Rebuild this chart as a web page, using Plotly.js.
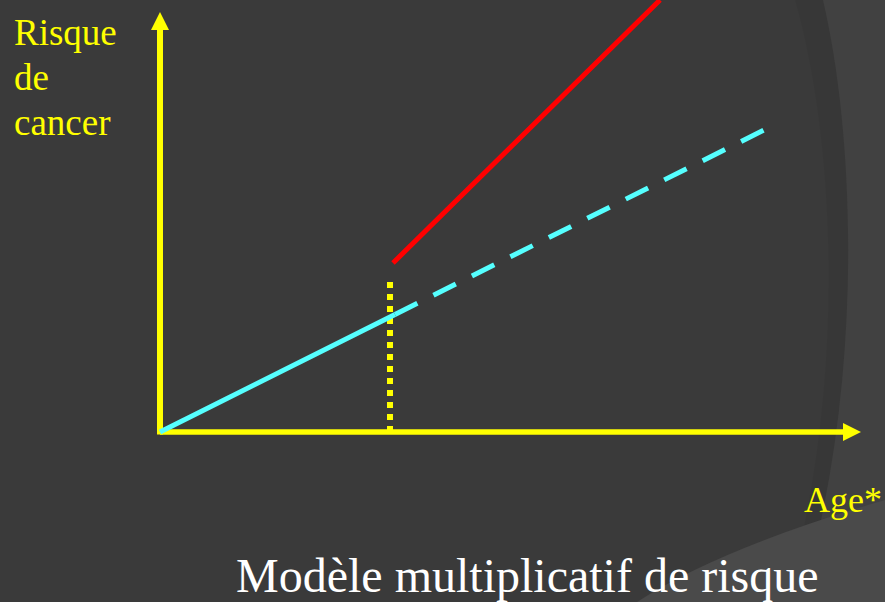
<!DOCTYPE html>
<html>
<head>
<meta charset="utf-8">
<script src="https://cdn.plot.ly/plotly-3.0.1.min.js"></script>
<style>html,body{margin:0;padding:0;background:#3a3a3a;}#chart{width:885px;height:602px;}</style>
</head>
<body>
<div id="chart"></div>
<script>
// Baseline risk (unexposed): solid part up to the exposure age, then dashed extrapolation
const ageBase = [0, 23.5];
const riskBase = [0, 11.75];
const ageBaseExtra = [23.5, 61.6];
const riskBaseExtra = [11.75, 30.8];
// Risk after exposure (multiplicative model)
const ageExposed = [23.3, 50];
const riskExposed = [16.9, 43.2];
// Exposure age marker
const ageExposure = [23, 23];
const riskExposureMark = [0, 15.2];
// Axes (arrows)
const xAxisAge = [0, 68.4];
const xAxisRisk = [0, 0];
const yAxisAge = [0, 0];
const yAxisRisk = [-0.25, 40.4];
const xArrowTip = {age: [70.1], risk: [0]};
const yArrowTip = {age: [0], risk: [42.0]};

const titleText = 'Modèle multiplicatif de risque';
const yLabelLines = ['Risque', 'de', 'cancer'];
const xLabel = 'Age*';

const YEL = '#ffff00', CYAN = '#55ffff', RED = '#ff0000';
const serif = 'Liberation Serif, Times New Roman, serif';

const traces = [
  {x: xAxisAge, y: xAxisRisk, mode: 'lines', line: {color: YEL, width: 5.5}, hoverinfo: 'skip'},
  {x: yAxisAge, y: yAxisRisk, mode: 'lines', line: {color: YEL, width: 6}, hoverinfo: 'skip'},
  {x: xArrowTip.age, y: xArrowTip.risk, mode: 'markers', marker: {symbol: 'arrow-right', size: 18, color: YEL}, hoverinfo: 'skip'},
  {x: yArrowTip.age, y: yArrowTip.risk, mode: 'markers', marker: {symbol: 'arrow-up', size: 18, color: YEL}, hoverinfo: 'skip'},
  {x: ageExposure, y: riskExposureMark, mode: 'lines', line: {color: YEL, width: 6, dash: '6px,6px'}, hoverinfo: 'skip'},
  {x: ageBase, y: riskBase, mode: 'lines', line: {color: CYAN, width: 5}, hoverinfo: 'skip'},
  {x: ageBaseExtra, y: riskBaseExtra, mode: 'lines', line: {color: CYAN, width: 5, dash: '25px,18px'}, hoverinfo: 'skip'},
  {x: ageExposed, y: riskExposed, mode: 'lines', line: {color: RED, width: 5}, hoverinfo: 'skip'}
];

const W = 885, H = 602;
const px = v => v / W, py = v => 1 - v / H;

const annotations = [];
const baselines = [45, 90, 135];
yLabelLines.forEach((t, i) => {
  annotations.push({text: t, xref: 'paper', yref: 'paper', x: px(12), y: py(baselines[i] - 12.5),
    xanchor: 'left', yanchor: 'middle', showarrow: false, font: {family: serif, size: 37, color: YEL}});
});
annotations.push({text: xLabel, xref: 'paper', yref: 'paper', x: px(802), y: py(512 - 12.2),
  xanchor: 'left', yanchor: 'middle', showarrow: false, font: {family: serif, size: 36, color: YEL}});

const layout = {
  width: W, height: H,
  margin: {l: 0, r: 0, t: 0, b: 0, pad: 0},
  paper_bgcolor: '#3a3a3a', plot_bgcolor: 'rgba(0,0,0,0)',
  showlegend: false,
  title: {text: titleText, x: px(236), xanchor: 'left', xref: 'paper', y: py(590 - 14.4), yref: 'container', yanchor: 'middle',
    font: {family: serif, size: 48, color: '#ffffff'}},
  xaxis: {visible: false, range: [-16, 72.5], fixedrange: true},
  yaxis: {visible: false, range: [-17, 43.2], fixedrange: true},
  annotations: annotations,
  shapes: [
    {type: 'path', xref: 'paper', yref: 'paper', layer: 'below', line: {width: 0},
     fillcolor: 'rgba(0,0,0,0.04)',
     path: `M ${px(795)},${py(0)} C ${px(838)},${py(150)} ${px(845)},${py(400)} ${px(785)},${py(602)} L ${px(800)},${py(602)} C ${px(862)},${py(400)} ${px(858)},${py(150)} ${px(823)},${py(0)} Z`},
    {type: 'path', xref: 'paper', yref: 'paper', layer: 'below', line: {width: 0},
     fillcolor: '#414141',
     path: `M ${px(823)},${py(0)} C ${px(858)},${py(150)} ${px(862)},${py(400)} ${px(800)},${py(602)} L ${px(885)},${py(602)} L ${px(885)},${py(0)} Z`},
    {type: 'path', xref: 'paper', yref: 'paper', layer: 'below', line: {width: 0},
     fillcolor: '#4a4a4a',
     path: `M ${px(637)},${py(602)} Q ${px(720)},${py(548)} ${px(885)},${py(500)} L ${px(885)},${py(602)} Z`}
  ]
};

Plotly.newPlot('chart', traces, layout, {displayModeBar: false, staticPlot: true});
</script>
</body>
</html>
